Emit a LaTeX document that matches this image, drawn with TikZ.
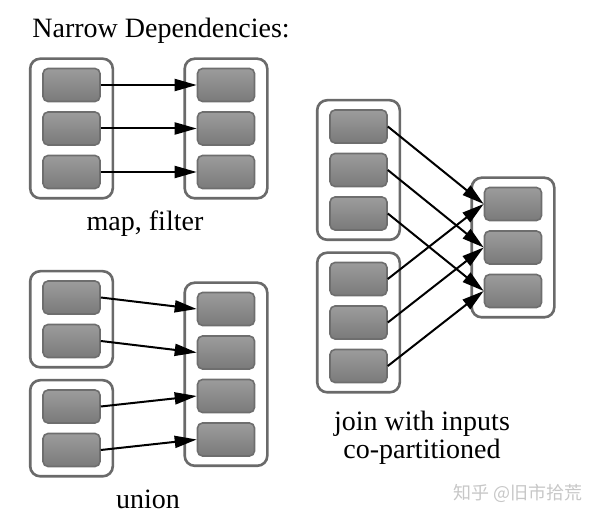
\documentclass[tikz,border=0pt]{standalone}
\usepackage{fontspec}
\setmainfont{Liberation Serif}
\newfontfamily\cjk{Noto Sans CJK SC}
\usetikzlibrary{positioning,fit,arrows.meta}
\definecolor{rddline}{HTML}{6A6A6A}
\definecolor{partline}{HTML}{6E6E6E}
\definecolor{parttop}{HTML}{9C9C9C}
\definecolor{partbot}{HTML}{7A7A7A}
\tikzset{
  part/.style={draw=partline, line width=0.8pt, rounded corners=2.5pt,
    top color=parttop, bottom color=partbot,
    minimum width=28.5pt, minimum height=16.5pt, inner sep=0pt},
  rdd/.style={draw=rddline, line width=1.3pt, rounded corners=5pt,
    inner xsep=6pt, inner ysep=4.5pt},
  dep/.style={-{Stealth[length=11pt,width=6pt,inset=0pt]}, line width=1pt},
  caption/.style={font=\fontsize{14}{14}\selectfont, inner sep=0pt}
}
\begin{document}
\begin{tikzpicture}[x=0.5pt, y=-0.5pt, node distance=21.75pt]
    \useasboundingbox (0,0) rectangle (596,518);
    \node[caption, anchor=base west] (title) at (32,38) {Narrow Dependencies:};

    % map, filter
    \node[part] (mapA1) at (71.5,85) {};
    \node[part] (mapA2) [below of=mapA1] {};
    \node[part] (mapA3) [below of=mapA2] {};
    \node[part] (mapB1) at (226,85) {};
    \node[part] (mapB2) [below of=mapB1] {};
    \node[part] (mapB3) [below of=mapB2] {};
    \node[rdd, fit=(mapA1)(mapA3)] (mapA) {};
    \node[rdd, fit=(mapB1)(mapB3)] (mapB) {};
    \draw[dep] (mapA1) -- (mapB1);
    \draw[dep] (mapA2) -- (mapB2);
    \draw[dep] (mapA3) -- (mapB3);
    \node[caption, anchor=base] (maplabel) at (145,231) {map, filter};

    % union
    \node[part] (unA1) at (71.5,297.5) {};
    \node[part] (unA2) [below of=unA1] {};
    \node[part] (unB1) at (71.5,406.5) {};
    \node[part] (unB2) [below of=unB1] {};
    \node[part] (unC1) at (226,309) {};
    \node[part] (unC2) [below of=unC1] {};
    \node[part] (unC3) [below of=unC2] {};
    \node[part] (unC4) [below of=unC3] {};
    \node[rdd, fit=(unA1)(unA2)] (unA) {};
    \node[rdd, fit=(unB1)(unB2)] (unB) {};
    \node[rdd, fit=(unC1)(unC4)] (unC) {};
    \draw[dep] (unA1.east) -- (unC1.west);
    \draw[dep] (unA2.east) -- (unC2.west);
    \draw[dep] (unB1.east) -- (unC3.west);
    \draw[dep] (unB2.east) -- (unC4.west);
    \node[caption, anchor=base] (unlabel) at (148,509) {union};

    % join with inputs co-partitioned
    \node[part] (jnA1) at (358.5,126.5) {};
    \node[part] (jnA2) [below of=jnA1] {};
    \node[part] (jnA3) [below of=jnA2] {};
    \node[part] (jnB1) at (358.5,279) {};
    \node[part] (jnB2) [below of=jnB1] {};
    \node[part] (jnB3) [below of=jnB2] {};
    \node[part] (jnC1) at (513,204) {};
    \node[part] (jnC2) [below of=jnC1] {};
    \node[part] (jnC3) [below of=jnC2] {};
    \node[rdd, fit=(jnA1)(jnA3)] (jnA) {};
    \node[rdd, fit=(jnB1)(jnB3)] (jnB) {};
    \node[rdd, fit=(jnC1)(jnC3)] (jnC) {};
    \foreach \i in {1,2,3} {
        \draw[dep] (jnA\i.east) -- (jnC\i.west);
        \draw[dep] (jnB\i.east) -- (jnC\i.west);
    }
    \node[caption, align=center] (jnlabel) at (422,438) {join with inputs\\co-partitioned};

    \node[font=\cjk\fontsize{9}{9}\selectfont, text=black!22, anchor=west, inner sep=0pt] (mark) at (453,493) {知乎 @旧市拾荒};
\end{tikzpicture}
\end{document}
